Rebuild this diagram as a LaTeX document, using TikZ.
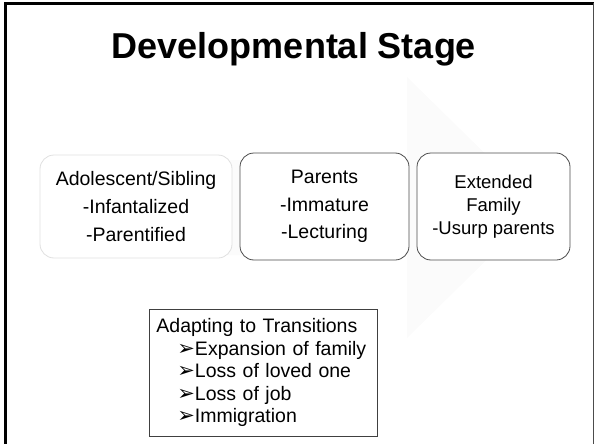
\documentclass[tikz,border=0pt]{standalone}
\usepackage{fontspec}
\setmainfont{Liberation Sans}
\newfontfamily\bulletfont{DejaVu Sans}
\tikzset{
  stagebox/.style={draw=black!70,line width=0.8pt,rounded corners=14pt,fill=white,align=center,inner sep=0pt},
  softbox/.style={draw=black!12,line width=0.8pt,rounded corners=14pt,fill=white,align=center,inner sep=0pt},
  listbox/.style={draw=black!75,line width=0.8pt,align=left,inner xsep=7pt,inner ysep=3pt,text width=214pt}
}
\newcommand{\tick}{\hspace*{21pt}{\bulletfont\fontsize{21}{22}\selectfont ➢}}
\begin{document}
\begin{tikzpicture}[x=1pt,y=-1pt]
  \useasboundingbox (0,0) rectangle (594,444);
  % khung
  \draw[line width=3pt] (5.5,444) -- (5.5,3.5) -- (594,3.5);
  \draw[black!70,line width=1pt] (593,3.5) -- (593,444);
  \node[font=\fontsize{36}{40}\selectfont\bfseries] (title) at (294,49) {Developmental Stage};
  % mui ten mo phia sau
  \fill[black!1.5] (80,160) -- (407,160) -- (407,77) -- (540,207.5) -- (407,338) -- (407,255) -- (80,255) -- cycle;
  \node[softbox,minimum width=192pt,minimum height=103pt,font=\fontsize{19.5}{28}\selectfont] (adolescent) at (136,206.5)
    {Adolescent/Sibling\\-Infantalized\\-Parentified};
  \node[stagebox,minimum width=169pt,minimum height=107pt,font=\fontsize{19.5}{27.5}\selectfont] (parents) at (324.5,206.5)
    {Parents\\-Immature\\-Lecturing};
  \node[stagebox,minimum width=153pt,minimum height=107pt,font=\fontsize{18.5}{23}\selectfont] (extended) at (493.5,206.5)
    {Extended\\Family\\-Usurp parents};
  \node[listbox,anchor=north west,minimum height=127pt,font=\fontsize{19.5}{22.5}\selectfont] (transitions) at (149,309)
    {Adapting to Transitions\\
     \tick Expansion of family\\
     \tick Loss of loved one\\
     \tick Loss of job\\
     \tick Immigration};
\end{tikzpicture}
\end{document}
